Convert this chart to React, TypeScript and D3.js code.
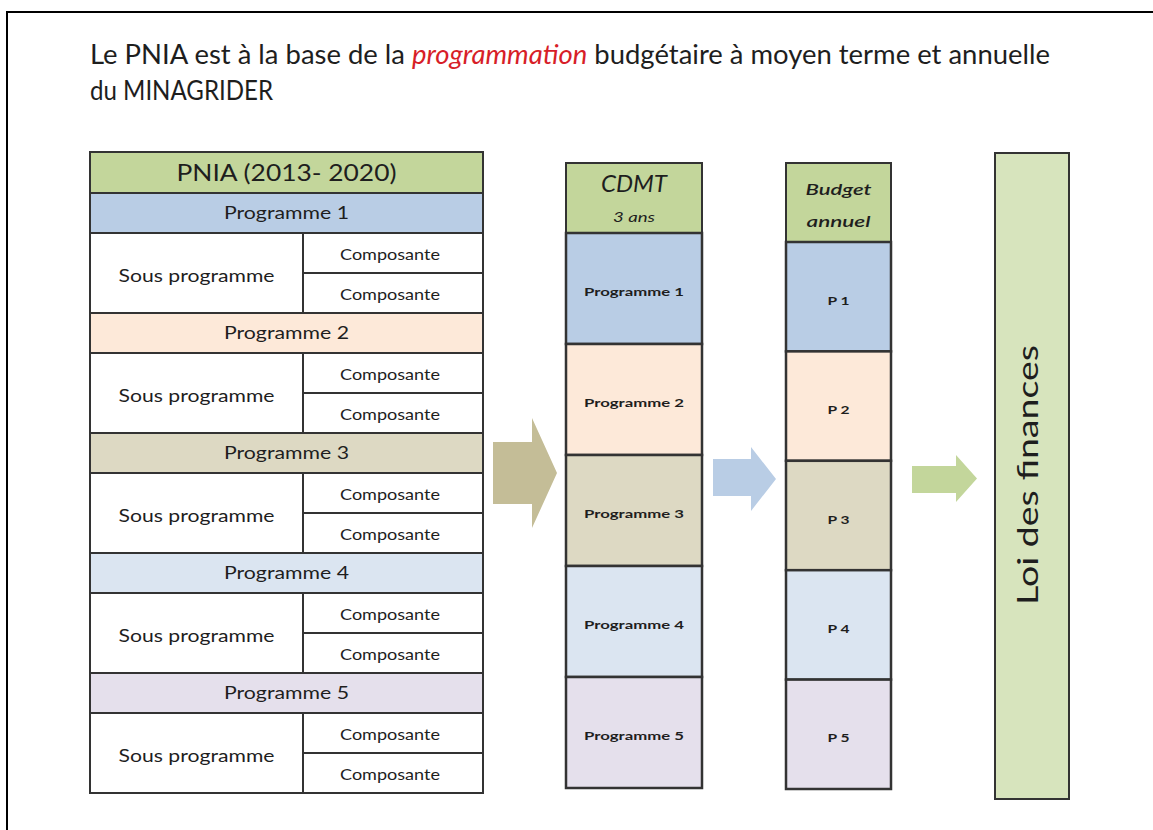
import React from "react";
import * as d3 from "d3";

const programmes = ["Programme  1", "Programme  2", "Programme  3", "Programme  4", "Programme  5"];
const budgetLabels = ["P 1", "P 2", "P 3", "P 4", "P 5"];
const progColors = ["#b9cde5", "#fde9d9", "#ddd9c3", "#dbe5f1", "#e5e0ec"];
const subLabel = "Sous programme";
const compLabels = ["Composante", "Composante"];
const titleStart = "Le PNIA est à la base de la ";
const titleEm = "programmation";
const titleEnd = " budgétaire à moyen terme et annuelle";
const titleLine2 = "du MINAGRIDER";
const pniaHeader = "PNIA (2013- 2020)";
const cdmtHeader = ["CDMT", "3 ans"];
const budgetHeader = ["Budget", "annuel"];
const loiLabel = "Loi des finances";
const arrowColors = ["#c4bd97", "#b9cde5", "#c3d69b"];

const FONT = "Lato, 'Open Sans', sans-serif";
const STROKE = "#333";
const HEADER_GREEN = "#c3d69b";

function Arrow({ x0, x1, xb, ys0, ys1, yh0, yh1, fill }: any) {
  const ym = (yh0 + yh1) / 2;
  const path = d3.path();
  path.moveTo(x0, ys0);
  path.lineTo(xb, ys0);
  path.lineTo(xb, yh0);
  path.lineTo(x1, ym);
  path.lineTo(xb, yh1);
  path.lineTo(xb, ys1);
  path.lineTo(x0, ys1);
  path.closePath();
  return <path d={path.toString()} fill={fill} />;
}

export default function App() {
  const idx = d3.range(programmes.length);
  // left table
  const L = { x0: 90, x1: 483, xd: 303 };
  const yL = d3.scaleLinear().domain([0, programmes.length]).range([193, 793]);
  const yC = d3.scaleLinear().domain([0, programmes.length]).range([233, 788]);
  const yB = d3.scaleLinear().domain([0, programmes.length]).range([242, 789]);
  const C = { x0: 566, x1: 702 };
  const B = { x0: 786, x1: 891 };
  const textCol = "#1e1e1e";

  return (
    <svg width={1153} height={830} style={{ position: "absolute", left: 0, top: 0, background: "#fff" }} fontFamily={FONT}>
      <rect x={7} y={12} width={1200} height={900} fill="#fff" stroke="#000" strokeWidth={2} />
      {/* title */}
      <text x={90} y={64} fontSize={27} fill={textCol} textLength={960} lengthAdjust="spacingAndGlyphs">
        <tspan>{titleStart}</tspan>
        <tspan fill="#d71e28" fontStyle="italic">{titleEm}</tspan>
        <tspan>{titleEnd}</tspan>
      </text>
      <text x={90} y={100} fontSize={27} fill={textCol} textLength={183} lengthAdjust="spacingAndGlyphs">{titleLine2}</text>

      {/* left table */}
      <rect x={L.x0} y={152} width={L.x1 - L.x0} height={41} fill={HEADER_GREEN} stroke={STROKE} strokeWidth={2} />
      <text x={(L.x0 + L.x1) / 2} y={181} fontSize={24} textAnchor="middle" fill={textCol} textLength={220} lengthAdjust="spacingAndGlyphs">{pniaHeader}</text>
      {idx.map((i) => {
        const top = yL(i);
        const unit = yL(i + 1) - yL(i);
        const rowH = unit / 3;
        const subTop = top + rowH;
        const split = top + 2 * rowH;
        const bottom = top + unit;
        return (
          <g key={i}>
            <rect x={L.x0} y={top} width={L.x1 - L.x0} height={rowH} fill={progColors[i]} stroke={STROKE} strokeWidth={2} />
            <text x={(L.x0 + L.x1) / 2} y={top + rowH / 2 + 6} fontSize={18} textAnchor="middle" fill={textCol} textLength={125} lengthAdjust="spacingAndGlyphs">{programmes[i]}</text>
            <rect x={L.x0} y={subTop} width={L.xd - L.x0} height={bottom - subTop} fill="#fff" stroke={STROKE} strokeWidth={2} />
            <rect x={L.xd} y={subTop} width={L.x1 - L.xd} height={split - subTop} fill="#fff" stroke={STROKE} strokeWidth={2} />
            <rect x={L.xd} y={split} width={L.x1 - L.xd} height={bottom - split} fill="#fff" stroke={STROKE} strokeWidth={2} />
            <text x={(L.x0 + L.xd) / 2} y={(subTop + bottom) / 2 + 9} fontSize={18} textAnchor="middle" fill={textCol} textLength={156} lengthAdjust="spacingAndGlyphs">{subLabel}</text>
            {compLabels.map((c, j) => {
              const y0 = j === 0 ? subTop : split;
              const y1 = j === 0 ? split : bottom;
              return (
                <text key={j} x={(L.xd + L.x1) / 2 - 3} y={(y0 + y1) / 2 + 7} fontSize={15} textAnchor="middle" fill={textCol} textLength={100} lengthAdjust="spacingAndGlyphs">{c}</text>
              );
            })}
          </g>
        );
      })}

      {/* CDMT column */}
      <rect x={C.x0} y={163} width={C.x1 - C.x0} height={yC(0) - 163} fill={HEADER_GREEN} stroke={STROKE} strokeWidth={2} />
      <text x={(C.x0 + C.x1) / 2} y={192} fontSize={24} fontStyle="italic" textAnchor="middle" fill={textCol} textLength={66} lengthAdjust="spacingAndGlyphs">{cdmtHeader[0]}</text>
      <text x={(C.x0 + C.x1) / 2} y={222} fontSize={14} fontStyle="italic" textAnchor="middle" fill={textCol} textLength={42} lengthAdjust="spacingAndGlyphs">{cdmtHeader[1]}</text>
      {idx.map((i) => (
        <g key={i}>
          <rect x={C.x0} y={yC(i)} width={C.x1 - C.x0} height={yC(i + 1) - yC(i)} fill={progColors[i]} stroke={STROKE} strokeWidth={2.5} />
          <text x={(C.x0 + C.x1) / 2} y={(yC(i) + yC(i + 1)) / 2 + 7} fontSize={12} fontWeight={700} textAnchor="middle" fill={textCol} textLength={100} lengthAdjust="spacingAndGlyphs">{programmes[i]}</text>
        </g>
      ))}

      {/* Budget column */}
      <rect x={B.x0} y={163} width={B.x1 - B.x0} height={yB(0) - 163} fill={HEADER_GREEN} stroke={STROKE} strokeWidth={2} />
      <text x={(B.x0 + B.x1) / 2} y={195} fontSize={16} fontStyle="italic" fontWeight={600} textAnchor="middle" fill={textCol} textLength={66} lengthAdjust="spacingAndGlyphs">{budgetHeader[0]}</text>
      <text x={(B.x0 + B.x1) / 2} y={227} fontSize={16} fontStyle="italic" fontWeight={600} textAnchor="middle" fill={textCol} textLength={64} lengthAdjust="spacingAndGlyphs">{budgetHeader[1]}</text>
      {idx.map((i) => (
        <g key={i}>
          <rect x={B.x0} y={yB(i)} width={B.x1 - B.x0} height={yB(i + 1) - yB(i)} fill={progColors[i]} stroke={STROKE} strokeWidth={2.5} />
          <text x={(B.x0 + B.x1) / 2} y={(yB(i) + yB(i + 1)) / 2 + 8} fontSize={12} fontWeight={700} textAnchor="middle" fill={textCol} textLength={22} lengthAdjust="spacingAndGlyphs">{budgetLabels[i]}</text>
        </g>
      ))}

      {/* Loi des finances */}
      <rect x={995} y={153} width={74} height={646} fill="#d7e4bd" stroke={STROKE} strokeWidth={2} />
      <text transform="translate(1038,475) rotate(-90)" fontSize={29} textAnchor="middle" fill={textCol} textLength={260} lengthAdjust="spacingAndGlyphs">{loiLabel}</text>

      {/* arrows */}
      <Arrow x0={493} x1={557} xb={532} ys0={442} ys1={504} yh0={418} yh1={528} fill={arrowColors[0]} />
      <Arrow x0={713} x1={776} xb={751} ys0={459} ys1={496} yh0={447} yh1={511} fill={arrowColors[1]} />
      <Arrow x0={912} x1={977} xb={956} ys0={466} ys1={493} yh0={455} yh1={502} fill={arrowColors[2]} />
    </svg>
  );
}
